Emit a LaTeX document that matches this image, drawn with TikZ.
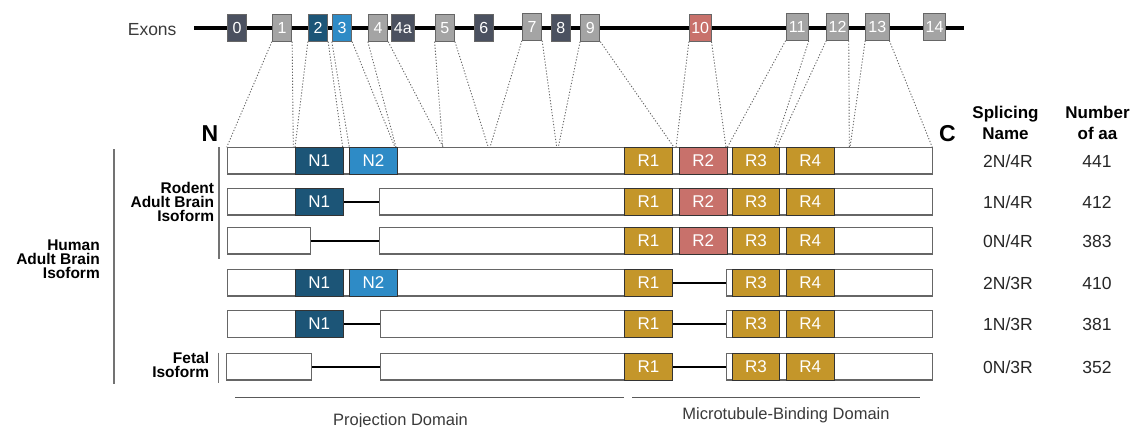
\documentclass[tikz,border=0pt]{standalone}
\usepackage{fontspec}
\setmainfont{Liberation Sans}
\definecolor{exgray}{HTML}{A4A4A4}
\definecolor{exdark}{HTML}{4B5160}
\definecolor{nblue}{HTML}{1C5577}
\definecolor{lblue}{HTML}{2E8BC6}
\definecolor{rred}{HTML}{C8716B}
\definecolor{rgold}{HTML}{C4962A}
\definecolor{txtgray}{HTML}{3A3A3A}
\begin{document}
\begin{tikzpicture}[x=1pt,y=-1pt]
\tikzset{exon/.style = {draw=black!60, line width=0.9pt, minimum width=19.4pt, minimum height=26.5pt, inner sep=0pt, text=white, font=\fontsize{16}{16}\selectfont}}
\tikzset{seg/.style = {draw=black!60, line width=1.1pt, fill=white, minimum height=26.7pt, inner sep=0pt, anchor=west}}
\tikzset{dom/.style = {draw=black!80, line width=0.9pt, minimum width=47.5pt, minimum height=26.7pt, inner sep=0pt, text=white, font=\fontsize{17}{17}\selectfont, anchor=west}}
\tikzset{joint/.style = {line width=2pt}}
\tikzset{exmap/.style = {dash pattern=on 1.2pt off 1.8pt, draw=black!60, line width=0.9pt}}
\tikzset{hdr/.style = {align=center, inner sep=0pt, font=\bfseries\fontsize{17}{20.3}\selectfont}}
\tikzset{lbl/.style = {inner sep=0pt, anchor=base, text=black!85, font=\fontsize{17.5}{17.5}\selectfont}}
\tikzset{grp/.style = {align=right, inner sep=0pt, anchor=east, font=\bfseries\fontsize{15.5}{14.2}\selectfont}}
\tikzset{brk/.style = {draw=black!55, line width=1.3pt}}
\useasboundingbox (0,0) rectangle (1138,427);
% exon line
\coordinate (ls) at (194,28);
\coordinate (le) at (964,28);
\draw[line width=4pt] (ls) -- (le);
\node[anchor=east, text=txtgray, font=\fontsize{17.5}{17.5}\selectfont] (exlab) at (180,29.7) {Exons};
% exons
\node[exon, fill=exdark] (e0) at (237,28) {0};
\node[exon, fill=exgray] (e1) at (282,28) {1};
\node[exon, fill=nblue] (e2) at (318,28) {2};
\node[exon, fill=lblue] (e3) at (342,28) {3};
\node[exon, fill=exgray] (e4) at (378,28) {4};
\node[exon, fill=exdark, minimum width=23.7pt] (e4a) at (402.8,28) {4a};
\node[exon, fill=exgray] (e5) at (444.8,28) {5};
\node[exon, fill=exdark] (e6) at (483.7,28) {6};
\node[exon, fill=exgray] (e7) at (532,27) {7};
\node[exon, fill=exdark] (e8) at (560.8,28) {8};
\node[exon, fill=exgray] (e9) at (590.2,28) {9};
\node[exon, fill=rred, minimum width=21.7pt] (e10) at (700.2,28) {10};
\node[exon, fill=exgray, minimum width=22.3pt] (e11) at (797.2,27) {11};
\node[exon, fill=exgray, minimum width=21.6pt] (e12) at (837.5,27) {12};
\node[exon, fill=exgray, minimum width=23.3pt] (e13) at (877.3,27) {13};
\node[exon, fill=exgray, minimum width=22.4pt] (e14) at (934.5,27) {14};
% exon -> protein
\foreach \e/\a/\b in {1/226.7/293.3, 2/295/342.7, 3/349.3/395, 4/396/443.3, 5/442.7/488.3, 7/490/556.7, 9/558.3/674, 10/676/726, 11/727.3/774.3, 12/776.7/849.3, 13/850/932.3}{
  \coordinate (pl\e) at (\a,147.3);
  \coordinate (pr\e) at (\b,147.3);
  \draw[exmap] (e\e.south west) -- (pl\e);
  \draw[exmap] (e\e.south east) -- (pr\e);
}
% isoforms
\node[seg, minimum width=705.6pt] (s1a) at (226.7,160.7) {};
\node[seg, minimum width=116.6pt] (s2a) at (226.7,201.7) {};
\node[seg, minimum width=553pt] (s2b) at (379.3,201.7) {};
\node[seg, minimum width=83.3pt] (s3a) at (226.7,240.7) {};
\node[seg, minimum width=553pt] (s3b) at (379.3,240.7) {};
\node[seg, minimum width=445pt] (s4a) at (226.7,282.7) {};
\node[seg, minimum width=206.6pt] (s4b) at (725.7,282.7) {};
\node[seg, minimum width=116.6pt] (s5a) at (226.7,324) {};
\node[seg, minimum width=291.7pt] (s5b) at (380,324) {};
\node[seg, minimum width=206.3pt] (s5c) at (726,324) {};
\node[seg, minimum width=85.3pt] (s6a) at (225.7,366.7) {};
\node[seg, minimum width=291.7pt] (s6b) at (380,366.7) {};
\node[seg, minimum width=206.3pt] (s6c) at (726,366.7) {};
\draw[joint] (s2a.east) -- (s2b.west);
\draw[joint] (s3a.east) -- (s3b.west);
\draw[joint] (s4a.east) -- (s4b.west);
\draw[joint] (s5a.east) -- (s5b.west);
\draw[joint] (s5b.east) -- (s5c.west);
\draw[joint] (s6a.east) -- (s6b.west);
\draw[joint] (s6b.east) -- (s6c.west);
% domains
\foreach \r/\y in {1/160.7, 2/201.7, 4/282.7, 5/324}{
  \node[dom, fill=nblue] (n1-\r) at (295,\y) {N1};
}
\foreach \r/\y in {1/160.7, 4/282.7}{
  \node[dom, fill=lblue] (n2-\r) at (349.3,\y) {N2};
}
\foreach \r/\y in {1/160.7, 2/201.7, 3/240.7, 4/282.7, 5/324, 6/366.7}{
  \node[dom, fill=rgold] (r1-\r) at (624.3,\y) {R1};
  \node[dom, fill=rgold] (r3-\r) at (731.7,\y) {R3};
  \node[dom, fill=rgold] (r4-\r) at (786,\y) {R4};
}
\foreach \r/\y in {1/160.7, 2/201.7, 3/240.7}{
  \node[dom, fill=rred] (r2-\r) at (679,\y) {R2};
}
\node[font=\bfseries\fontsize{23}{23}\selectfont] (nterm) at (210,134) {N};
\node[font=\bfseries\fontsize{23}{23}\selectfont] (cterm) at (947.5,133.5) {C};
% table
\node[hdr] (hsplice) at (1005.5,123) {Splicing\\Name};
\node[hdr] (hnum) at (1097.5,123) {Number\\of aa};
\foreach \r/\y/\a/\b/\n in {1/167.5/2N/4R/441, 2/208.5/1N/4R/412, 3/247.5/0N/4R/383, 4/289.5/2N/3R/410, 5/331/1N/3R/381, 6/373.5/0N/3R/352}{
  \node[lbl] (sn\r) at (1008,\y) {\a/\b};
  \node[lbl] (aa\r) at (1097,\y) {\n};
}
% groups
\node[grp] (rodent) at (214.3,202) {Rodent\\Adult Brain\\Isoform};
\node[grp] (human) at (100,259.5) {Human\\Adult Brain\\Isoform};
\node[grp] (fetal) at (209.3,364.8) {Fetal\\Isoform};
\draw[brk] (114,149.3) -- (114,384);
\draw[brk] (219,147.3) -- (219,259);
\draw[brk] (218.7,352.7) -- (218.7,383.3);
% domain ranges
\coordinate (pd1) at (235,397.3);
\coordinate (pd2) at (624,397.3);
\coordinate (md1) at (632.3,397.3);
\coordinate (md2) at (919.5,397.3);
\draw[draw=black!65, line width=1.1pt] (pd1) -- (pd2);
\draw[draw=black!65, line width=1.1pt] (md1) -- (md2);
\node[anchor=base, inner sep=0pt, text=txtgray, font=\fontsize{16.5}{16.5}\selectfont] (projlab) at (400.5,425.1) {Projection Domain};
\node[anchor=base, inner sep=0pt, text=txtgray, font=\fontsize{16.5}{16.5}\selectfont] (mtblab) at (786,419.1) {Microtubule-Binding Domain};
\end{tikzpicture}
\end{document}
